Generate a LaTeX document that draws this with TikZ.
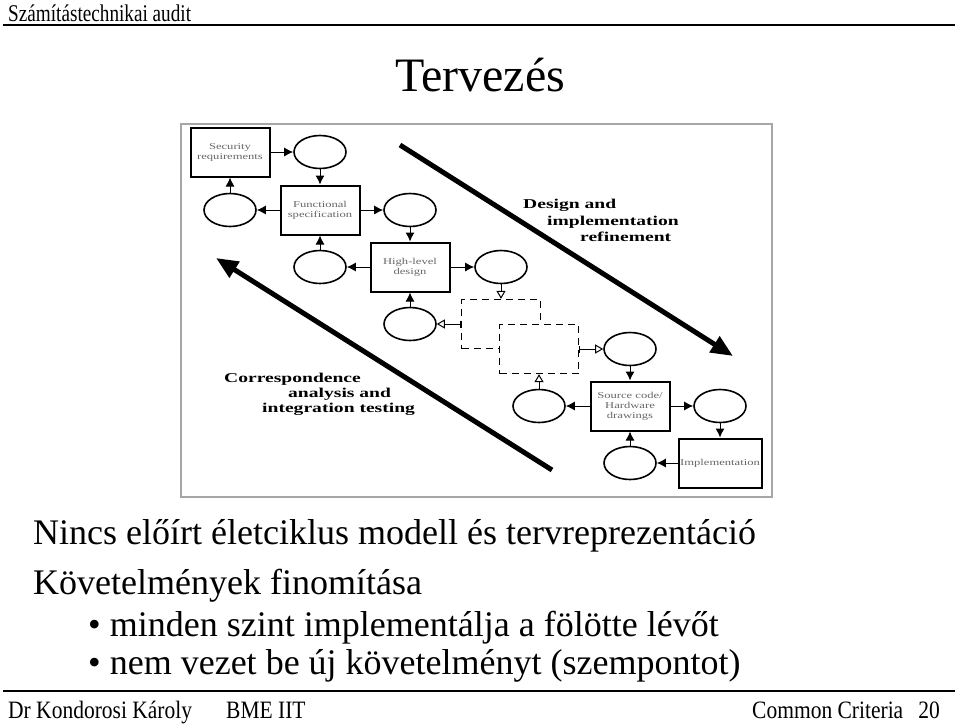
\documentclass[tikz,border=0pt]{standalone}
\usepackage{fontspec}
\setmainfont{Liberation Serif}
\newfontfamily\boxfont[FakeStretch=1.4]{Liberation Serif}
\newfontfamily\labfont[FakeStretch=1.45]{Liberation Serif}
\newfontfamily\hdfont[FakeStretch=0.8]{Liberation Serif}
\newfontfamily\ftfont[FakeStretch=0.86]{Liberation Serif}
\usetikzlibrary{positioning,arrows.meta,shapes.geometric}

\begin{document}
\begin{tikzpicture}[x=1pt, y=-1pt,
  bx/.style={draw, line width=2pt, minimum width=79pt, minimum height=49pt, inner sep=1pt, align=center, text=black!60, font=\boxfont\fontsize{9}{10}\selectfont},
  dbx/.style={draw, dash pattern=on 7pt off 5pt, line width=1.3pt, fill=white, minimum width=79pt, minimum height=49pt},
  el/.style={ellipse, draw, line width=1.6pt, minimum width=52pt, minimum height=33pt, inner sep=0pt},
  e/.style={-{Latex[length=9pt, width=9pt]}, line width=1pt},
  oe/.style={-{Triangle[open, length=8pt, width=9pt, line width=1pt]}, line width=1pt},
  be/.style={{Bar[width=7pt]}-{Triangle[open, length=8pt, width=9pt, line width=1pt]}, line width=1pt},
  big/.style={-{Triangle[length=22pt, width=18pt]}, line width=5pt},
  lab/.style={anchor=base west, inner sep=0pt, font=\labfont\bfseries\fontsize{13.5}{15}\selectfont},
  txt/.style={anchor=base west, inner sep=0pt, font=\fontsize{36}{40}\selectfont},
  ft/.style={anchor=base west, inner sep=0pt, font=\ftfont\fontsize{25}{28}\selectfont}]
\useasboundingbox (0,0) rectangle (960,724);
\node[anchor=base west, inner sep=0pt, font=\hdfont\fontsize{24}{26}\selectfont] (hdr) at (8,21) {Számítástechnikai audit};
\draw[line width=2.5pt] (3,25) -- (955,25);
\node[anchor=base, inner sep=0pt, font=\fontsize{48}{52}\selectfont] (ttl) at (480,91) {Tervezés};
\draw[gray!70, line width=1.5pt] (181,124) rectangle (772,497);
\node[bx] (sr) at (230,152) {Security\\requirements};
\node[el] (e1) at (320,152) {};
\node[bx] (fs) at (320,210) {Functional\\specification};
\node[el] (e2) at (230,210) {}; \node[el] (e3) at (410,210) {};
\node[bx] (hl) at (410,267) {High-level\\design};
\node[el] (e4) at (320,267) {}; \node[el] (e5) at (501,267) {};
\node[dbx] (d1) at (501,324) {};
\node[el] (e6) at (410,324) {};
\node[dbx] (d2) at (539,349) {};
\node[el] (e7) at (630,349) {};
\node[bx] (sc) at (630,406) {Source code/\\Hardware\\drawings};
\node[el] (e8) at (539,406) {}; \node[el] (e9) at (720,406) {};
\node[bx, minimum width=83pt] (im) at (720,463) {Implementation};
\node[el] (e10) at (630,463) {};
\draw[e] (sr) -- (e1); \draw[e] (e1) -- (fs); \draw[e] (fs) -- (e2); \draw[e] (e2) -- (sr);
\draw[e] (fs) -- (e3); \draw[e] (e3) -- (hl); \draw[e] (hl) -- (e4); \draw[e] (e4) -- (fs);
\draw[e] (hl) -- (e5); \draw[oe] (e5) -- (d1); \draw[be] (d1) -- (e6); \draw[e] (e6) -- (hl);
\draw[be] (d2) -- (e7); \draw[e] (e7) -- (sc); \draw[e] (sc) -- (e8); \draw[oe] (e8) -- (d2);
\draw[e] (sc) -- (e9); \draw[e] (e9) -- (im); \draw[e] (im) -- (e10); \draw[e] (e10) -- (sc);
\coordinate (dt) at (400,145); \coordinate (dh) at (733,356);
\coordinate (ct) at (552,470); \coordinate (ch) at (216,258);
\draw[big] (dt) -- (dh); \draw[big] (ct) -- (ch);
\node[lab] (ld1) at (523,208) {Design and};
\node[lab] (ld2) at (547,225) {implementation};
\node[lab] (ld3) at (580,241) {refinement};
\node[lab] (lc1) at (224,382) {Correspondence};
\node[lab] (lc2) at (288,397) {analysis and};
\node[lab] (lc3) at (262,412) {integration testing};
\node[txt] (l1) at (33,544) {Nincs előírt életciklus modell és tervreprezentáció};
\node[txt] (l2) at (33,594) {Követelmények finomítása};
\node[txt] (b1) at (88,636) {\textbullet{} minden szint implementálja a fölötte lévőt};
\node[txt] (b2) at (88,674) {\textbullet{} nem vezet be új követelményt (szempontot)};
\draw[line width=2.5pt] (3,691) -- (955,691);
\node[ft] (ft1) at (8,718) {Dr Kondorosi Károly};
\node[ft] (ft2) at (226,718) {BME IIT};
\node[ft] (ft3) at (752,718) {Common Criteria};
\node[ft, anchor=base east] (ft4) at (940,718) {20};
\end{tikzpicture}
\end{document}
